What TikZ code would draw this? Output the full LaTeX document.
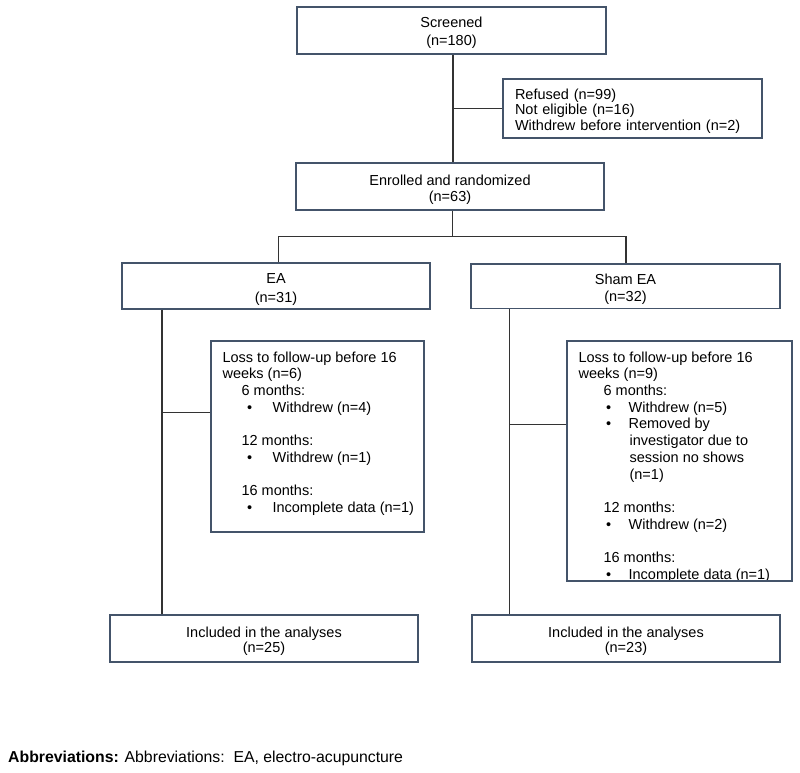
\documentclass[tikz,border=0pt]{standalone}
\usepackage{fontspec}
\setmainfont{Liberation Sans}
\definecolor{boxc}{HTML}{44546A}
\definecolor{linec}{HTML}{333333}
\newcommand{\bul}[2]{\makebox[50pt][l]{\hspace*{#1}\textbullet}#2}
\newcommand{\st}{\rule{0pt}{16pt}}
\begin{document}
\begin{tikzpicture}[x=1pt,y=-1pt,
  box/.style={draw=boxc, line width=1.2pt, rectangle, inner sep=0pt, align=center, font=\fontsize{14.5}{#1}\selectfont},
  box/.default=16,
  lbox/.style={draw=boxc, line width=1.2pt, rectangle, inner ysep=0pt, inner xsep=12pt, align=left, font=\fontsize{14.5}{#1}\selectfont},
  txt/.style={inner sep=0pt, align=left, anchor=north west, font=\fontsize{14.5}{16.7}\selectfont},
  conn/.style={draw=linec, line width=1.2pt}]
\useasboundingbox (0,0) rectangle (800,773);
\node[box=18, minimum width=309pt, minimum height=47pt] (scr) at (451.5,30.5) {\st Screened\\(n=180)};
\node[lbox=15.5, text width=235pt, minimum height=59pt] (ref) at (632.5,108.5) {\st Refused (n=99)\\Not eligible (n=16)\\Withdrew before intervention (n=2)};
\node[box=16, minimum width=308pt, minimum height=47pt] (enr) at (450,186.5) {\st Enrolled and randomized\\(n=63)};
\node[box=19, minimum width=308pt, minimum height=46pt] (ea) at (276,286) {\st EA\\(n=31)};
\node[box=17, minimum width=309pt, minimum height=44.5pt] (sham) at (625.5,286.25) {\st Sham EA\\(n=32)};
\node[box, minimum width=213pt, minimum height=191pt] (lossa) at (317.5,436.5) {};
\node[box, minimum width=225pt, minimum height=240pt] (lossb) at (679.5,461) {};
\node[box=15, minimum width=308pt, minimum height=47pt] (inca) at (264,638.5) {\st Included in the analyses\\(n=25)};
\node[box=15, minimum width=308pt, minimum height=47pt] (incb) at (626,638.5) {\st Included in the analyses\\(n=23)};

\node[txt] (lossat) at ([xshift=12pt,yshift=-11pt]lossa.north west) {Loss to follow-up before 16\\weeks (n=6)\\
\hspace*{19pt}6 months:\\
\bul{24.5pt}{Withdrew (n=4)}\\[16.7pt]
\hspace*{19pt}12 months:\\
\bul{24.5pt}{Withdrew (n=1)}\\[16.7pt]
\hspace*{19pt}16 months:\\
\bul{24.5pt}{Incomplete data (n=1)}};

\begin{scope}
\clip (lossb.north west) rectangle (lossb.south east);
\node[txt] (lossbt) at ([xshift=12pt,yshift=-11pt]lossb.north west) {Loss to follow-up before 16\\weeks (n=9)\\
\hspace*{25pt}6 months:\\
\bul{27.5pt}{Withdrew (n=5)}\\
\bul{27.5pt}{Removed by}\\
\hspace*{51pt}investigator due to\\
\hspace*{51pt}session no shows\\
\hspace*{51pt}(n=1)\\[16.7pt]
\hspace*{25pt}12 months:\\
\bul{27.5pt}{Withdrew (n=2)}\\[16.7pt]
\hspace*{25pt}16 months:\\
\bul{27.5pt}{Incomplete data (n=1)}};
\end{scope}
\node[box, minimum width=225pt, minimum height=240pt] at (lossb) {};

\coordinate (t) at (453,0);
\draw[conn] (t |- scr.south) -- (t |- enr.north);
\draw[conn] (t |- ref.west) -- (ref.west);
\coordinate (j2) at (452.5,236.5);
\coordinate (ja) at (278.5,0);
\coordinate (jb) at (626,0);
\draw[conn] (enr.south -| j2) -- (j2);
\draw[conn] (ja |- ea.north) -- (ja |- j2) -- (jb |- j2) -- (jb |- sham.north);
\coordinate (la) at (162,0);
\draw[conn] (la |- ea.south) -- (la |- inca.north);
\draw[conn] (la |- 0,412.5) -- (lossa.west |- 0,412.5);
\coordinate (lb) at (509.5,0);
\draw[conn] (lb |- sham.south) -- (lb |- incb.north);
\draw[conn] (lb |- 0,424.5) -- (lossb.west |- 0,424.5);

\node[anchor=base west, inner sep=0pt, font=\fontsize{15.8}{18}\selectfont] (abbr) at (8,762.5) {\textbf{Abbreviations:} Abbreviations:\ \ EA, electro-acupuncture};
\end{tikzpicture}
\end{document}
